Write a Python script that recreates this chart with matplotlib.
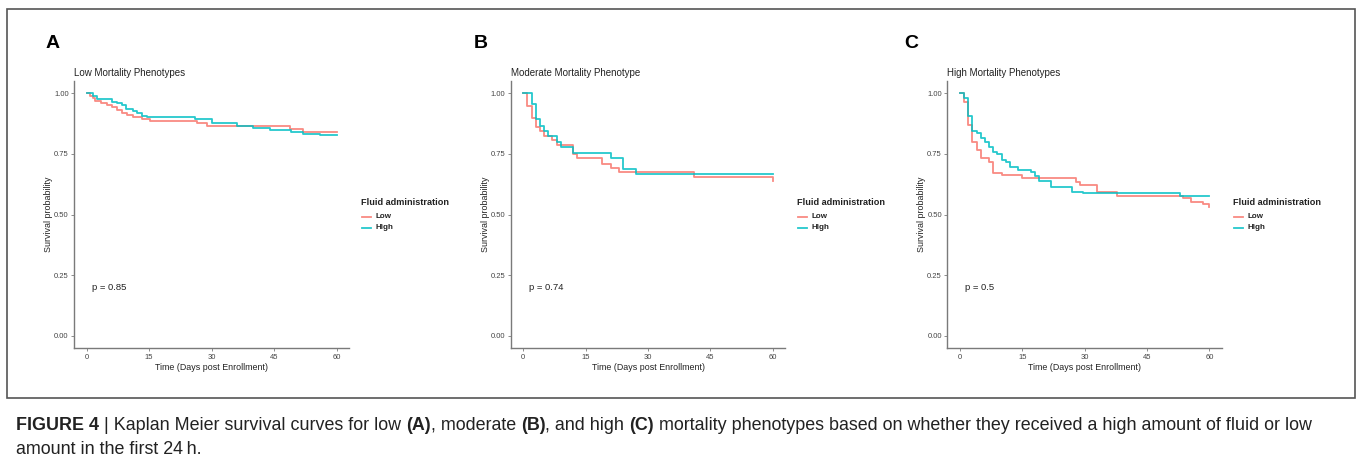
import matplotlib
matplotlib.use("Agg")
from matplotlib import pyplot as plt
from matplotlib.lines import Line2D
from matplotlib.patches import Rectangle

plt.rcParams['font.family'] = ['Liberation Sans', 'DejaVu Sans']

W, H = 1357, 468
RED = '#F8766D'
CYAN = '#00BFC4'
AXC = '#7a7a7a'

# Kaplan Meier step data (days, survival)
low_mort_low_t = [0, 0.8, 1.4, 2.0, 3.4, 4.8, 6, 7.2, 8.4, 9.6, 11.2, 13.2, 15.2, 26.4, 28.8, 48.8, 52, 60]
low_mort_low_s = [1.0, 0.99, 0.979, 0.97, 0.962, 0.952, 0.942, 0.931, 0.921, 0.91, 0.901, 0.893, 0.886, 0.876, 0.865, 0.852, 0.842, 0.842]
low_mort_high_t = [0, 1.4, 2.4, 6, 7.2, 8.4, 9.4, 11, 12.1, 13.2, 14.4, 26, 30, 36, 40, 44, 49, 52, 56, 60]
low_mort_high_s = [1.0, 0.99, 0.977, 0.966, 0.959, 0.95, 0.935, 0.927, 0.918, 0.908, 0.901, 0.893, 0.878, 0.865, 0.858, 0.849, 0.839, 0.831, 0.828, 0.828]

mod_mort_low_t = [0, 1, 2, 3, 4, 5, 7, 8, 12, 13, 19, 21, 23, 41, 60]
mod_mort_low_s = [1.0, 0.949, 0.897, 0.86, 0.846, 0.824, 0.808, 0.787, 0.75, 0.732, 0.709, 0.691, 0.674, 0.654, 0.639]
mod_mort_high_t = [0, 2, 3, 4, 5, 6, 8, 9, 12, 21, 24, 27, 60]
mod_mort_high_s = [1.0, 0.956, 0.893, 0.867, 0.846, 0.824, 0.80, 0.778, 0.755, 0.732, 0.687, 0.667, 0.667]

high_mort_low_t = [0, 1, 2, 3, 4, 5, 7, 8, 10, 15, 28, 29, 33, 37.7, 53.7, 55.7, 58.5, 60]
high_mort_low_s = [1.0, 0.963, 0.869, 0.798, 0.766, 0.735, 0.716, 0.67, 0.663, 0.653, 0.636, 0.622, 0.595, 0.577, 0.568, 0.553, 0.543, 0.533]
high_mort_high_t = [0, 1, 2, 3, 4, 5, 6, 7, 8, 9, 10, 11, 12, 14, 17, 18, 19, 22, 27, 29.6, 53, 60]
high_mort_high_s = [1.0, 0.979, 0.908, 0.846, 0.838, 0.817, 0.80, 0.78, 0.76, 0.75, 0.725, 0.716, 0.695, 0.684, 0.674, 0.66, 0.64, 0.615, 0.595, 0.588, 0.578, 0.578]

titles = ["Low Mortality Phenotypes", "Moderate Mortality Phenotype", "High Mortality Phenotypes"]
letters = ["A", "B", "C"]
pvals = ["p = 0.85", "p = 0.74", "p = 0.5"]
xticks = [0, 15, 30, 45, 60]
yticks = [0.0, 0.25, 0.5, 0.75, 1.0]
ytick_labels = ["0.00", "0.25", "0.50", "0.75", "1.00"]
legend_labels = ["Low", "High"]

series = [
    (low_mort_low_t, low_mort_low_s, low_mort_high_t, low_mort_high_s),
    (mod_mort_low_t, mod_mort_low_s, mod_mort_high_t, mod_mort_high_s),
    (high_mort_low_t, high_mort_low_s, high_mort_high_t, high_mort_high_s),
]

# axes boxes in pixels: left, right (top/bottom shared)
ax_lr = [(74.2, 349.2), (510.8, 785.2), (947.5, 1221.8)]
ax_top, ax_bot = 81.2, 348.1
letter_x = [46, 474, 904]
legend_x = [361, 797, 1233]

fig = plt.figure(figsize=(W / 100, H / 100), dpi=100)


def fx(px):
    return px / W


def fy(py):
    return 1 - py / H


# frame around the panels
fig.add_artist(Rectangle((fx(7), fy(398)), fx(1355) - fx(7), fy(9) - fy(398),
                         transform=fig.transFigure, fill=False, edgecolor='#555555', lw=1.2))

for i in range(3):
    l, r = ax_lr[i]
    ax = fig.add_axes([fx(l), fy(ax_bot), (r - l) / W, (ax_bot - ax_top) / H])
    lt, ls, ht, hs = series[i]
    ax.step(lt, ls, where='post', color=RED, lw=1.3, alpha=0.85)
    ax.step(ht, hs, where='post', color=CYAN, lw=1.3, alpha=0.85)
    ax.set_xlim(-3, 63)
    ax.set_ylim(-0.05, 1.05)
    ax.set_xticks(xticks)
    ax.set_yticks(yticks)
    ax.set_yticklabels(ytick_labels)
    for s in ['top', 'right']:
        ax.spines[s].set_visible(False)
    for s in ['left', 'bottom']:
        ax.spines[s].set_color(AXC)
        ax.spines[s].set_linewidth(1.0)
    ax.tick_params(length=2.5, width=0.6, color=AXC, labelsize=5.5, labelcolor='#444444', pad=1.5)
    ax.set_xlabel("Time (Days post Enrollment)", fontsize=6.4, color='#222222', labelpad=1.5)
    ax.set_ylabel("Survival probability", fontsize=6.4, color='#222222', labelpad=0.5)
    ax.set_title(titles[i], loc='left', fontsize=7, color='#222222', pad=4)
    ax.text(1.3, 0.2, pvals[i], fontsize=6.8, color='#222222', va='center', ha='left')

    fig.text(fx(letter_x[i]), fy(43), letters[i], fontsize=14, fontweight='bold', va='center', ha='left')

    # legend
    lx = legend_x[i]
    fig.text(fx(lx), fy(202.5), "Fluid administration", fontsize=6.6, fontweight='bold',
             va='center', ha='left', color='#222222')
    for j, (lab, col) in enumerate(zip(legend_labels, [RED, CYAN])):
        yy = 216.5 + j * 11
        fig.add_artist(Line2D([fx(lx + 1), fx(lx + 10)], [fy(yy), fy(yy)], transform=fig.transFigure,
                              color=col, lw=1.3, alpha=0.85))
        fig.text(fx(lx + 15), fy(yy), lab, fontsize=5.8, fontweight='bold', va='center', ha='left',
                 color='#222222')

# caption, assembled from pieces with mixed weight
cap_font = ['Liberation Sans', 'DejaVu Sans']
line1 = [("FIGURE 4", 'bold'), (" | Kaplan Meier survival curves for low ", 'normal'), ("(A)", 'bold'),
         (", moderate ", 'normal'), ("(B)", 'bold'), (", and high ", 'normal'), ("(C)", 'bold'),
         (" mortality phenotypes based on whether they received a high amount of fluid or low", 'normal')]
line2 = [("amount in the first 24\u2009h.", 'normal')]

fig.canvas.draw()
renderer = fig.canvas.get_renderer()
for pieces, py in [(line1, 425), (line2, 450)]:
    x = 16
    for txt, wt in pieces:
        t = fig.text(fx(x), fy(py), txt, fontsize=12.9, fontweight=wt, va='center', ha='left',
                     family=cap_font, color='#222222')
        bb = t.get_window_extent(renderer=renderer)
        x += bb.width

fig.savefig("out.png", dpi=100)
